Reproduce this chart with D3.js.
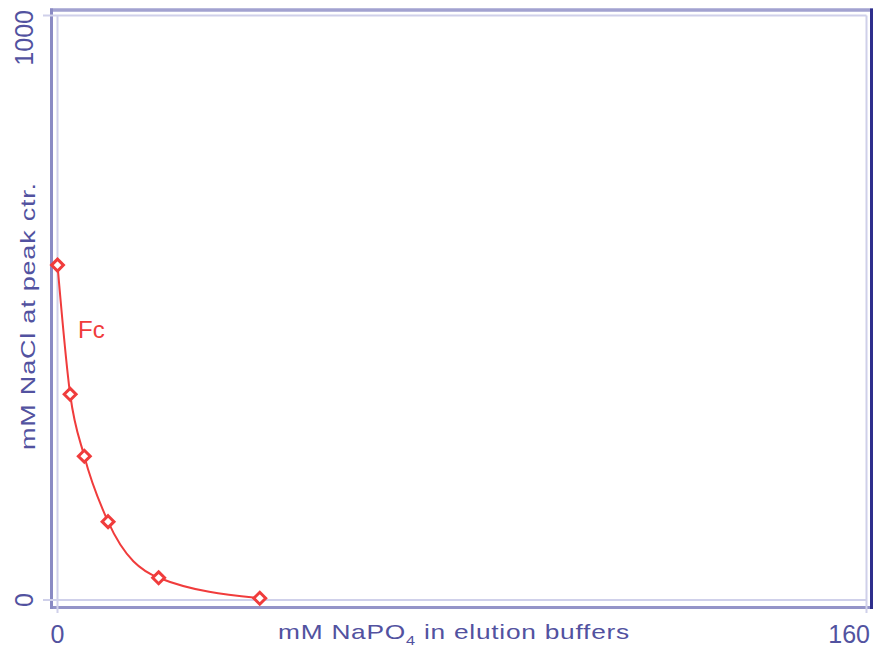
<!DOCTYPE html>
<html>
<head>
<meta charset="utf-8">
<script src="https://cdn.jsdelivr.net/npm/d3@7"></script>
<style>
  html, body { margin: 0; padding: 0; background: #fff; }
  svg { display: block; }
  text { font-family: "Liberation Sans", Arial, sans-serif; }
</style>
</head>
<body>
<svg id="chart" width="875" height="652"></svg>
<script>
// Elution data: NaCl concentration at peak centre vs phosphate in the buffer
const naPO4 = [0, 2.5, 5.3, 10, 20, 40];          // mM NaPO4
const naClPeak = [573, 352, 246, 134, 38, 3];      // mM NaCl at peak ctr.
const seriesName = "Fc";
const xTicks = [0, 160];
const yTicks = [0, 1000];

const textColor = "#5252a0";
const gridColor = "#cfd0ea";
const red = "#f03c3c";

const svg = d3.select("#chart");

const x = d3.scaleLinear().domain([0, 160]).range([57.5, 866.5]);
const y = d3.scaleLinear().domain([0, 1000]).range([600, 15.5]);

// Outer frame with shaded edges
const frame = svg.append("g");
frame.append("line").attr("x1", 50).attr("x2", 873).attr("y1", 10).attr("y2", 10)
  .attr("stroke", "#a2a2d0").attr("stroke-width", 3.5);
frame.append("line").attr("x1", 50).attr("x2", 873).attr("y1", 607.5).attr("y2", 607.5)
  .attr("stroke", "#9494c8").attr("stroke-width", 3);
frame.append("line").attr("x1", 51.5).attr("x2", 51.5).attr("y1", 8.5).attr("y2", 609)
  .attr("stroke", "#8a8ac4").attr("stroke-width", 3);
frame.append("line").attr("x1", 871.5).attr("x2", 871.5).attr("y1", 8.5).attr("y2", 609)
  .attr("stroke", "#2e2e8c").attr("stroke-width", 3);

// Light boundary lines at the axis limits, running out as ticks
const grid = svg.append("g").attr("stroke", gridColor).attr("stroke-width", 2);
yTicks.forEach(v => {
  grid.append("line").attr("x1", 43).attr("x2", x(160)).attr("y1", y(v)).attr("y2", y(v));
});
xTicks.forEach(v => {
  grid.append("line").attr("x1", x(v)).attr("x2", x(v)).attr("y1", y(1000)).attr("y2", 613);
});

// Tick labels
const xLab = svg.append("g").attr("fill", textColor).attr("font-size", 25);
xTicks.forEach((v, i) => {
  xLab.append("text")
    .attr("x", i === 0 ? x(v) : 870)
    .attr("y", 643)
    .attr("text-anchor", i === 0 ? "middle" : "end")
    .text(v);
});
yTicks.forEach((v, i) => {
  const ty = i === 0 ? y(v) : 10;
  xLab.append("text")
    .attr("transform", `translate(33,${ty}) rotate(-90)`)
    .attr("text-anchor", i === 0 ? "middle" : "end")
    .text(v);
});

// Axis titles, widened to a fixed run length
function widenTo(sel, targetWidth) {
  const w = sel.node().getComputedTextLength();
  sel.attr("transform", `scale(${targetWidth / w},1)`);
}

const xTitleG = svg.append("g").attr("transform", "translate(278,639)");
const xTitle = xTitleG.append("text")
  .attr("fill", textColor).attr("font-size", 21).attr("letter-spacing", 0.6);
xTitle.append("tspan").text("mM NaPO");
xTitle.append("tspan").attr("font-size", 13).attr("dy", 6).text("4");
xTitle.append("tspan").attr("dy", -6).text(" in elution buffers");
widenTo(xTitle, 352);

const yTitleG = svg.append("g").attr("transform", "translate(35,450) rotate(-90)");
const yTitle = yTitleG.append("text")
  .attr("fill", textColor).attr("font-size", 21).attr("letter-spacing", 0.6)
  .text("mM NaCl at peak ctr.");
widenTo(yTitle, 268);

// Series curve and markers
const pts = naPO4.map((v, i) => [v, naClPeak[i]]);
const line = d3.line()
  .x(d => x(d[0])).y(d => y(d[1]))
  .curve(d3.curveMonotoneX);

svg.append("path")
  .datum(pts)
  .attr("d", line)
  .attr("fill", "none")
  .attr("stroke", red)
  .attr("stroke-width", 2);

const diamond = d3.symbol().type(d3.symbolDiamond2).size(90);
svg.append("g").selectAll("path")
  .data(pts)
  .join("path")
  .attr("d", diamond)
  .attr("transform", d => `translate(${x(d[0])},${y(d[1])})`)
  .attr("fill", "#fff")
  .attr("stroke", red)
  .attr("stroke-width", 3);

// Series label
svg.append("text")
  .attr("x", 78).attr("y", 338)
  .attr("fill", red).attr("font-size", 24)
  .text(seriesName);
</script>
</body>
</html>
